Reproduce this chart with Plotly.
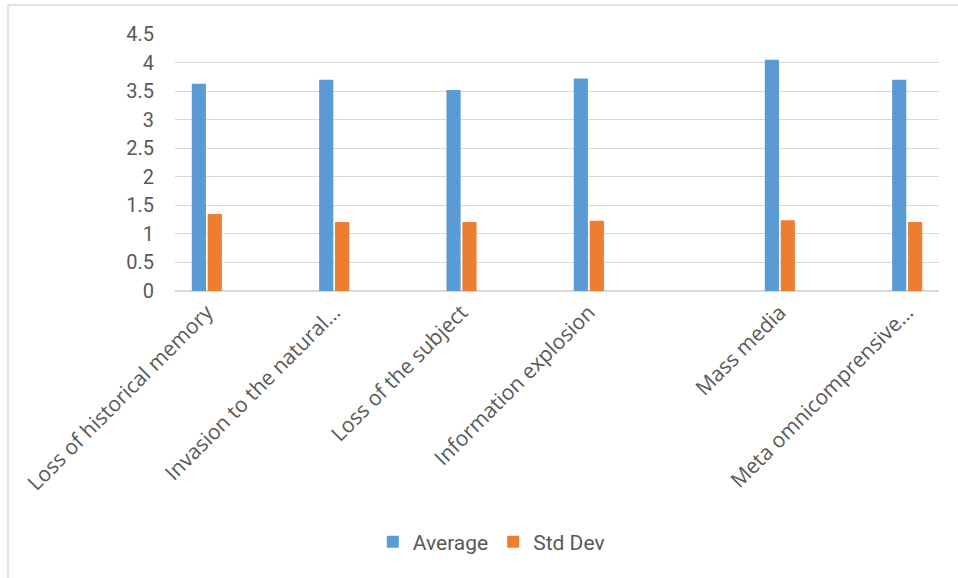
import plotly.graph_objects as go

# Category slots (the source sheet has blank rows between some categories)
categories = [
    "Loss of historical memory", " ", "Invasion to the natural…", "  ",
    "Loss of the subject", "   ", "Information explosion", "    ", "     ",
    "Mass media", "      ", "Meta omnicomprensive…",
]
average = [3.63, None, 3.70, None, 3.52, None, 3.72, None, None, 4.05, None, 3.70]
std_dev = [1.35, None, 1.21, None, 1.21, None, 1.23, None, None, 1.24, None, 1.21]
y_ticks = [0, 0.5, 1, 1.5, 2, 2.5, 3, 3.5, 4, 4.5]

FONT = "Roboto"
XFONT = "Open Sans"
TXT = "#595959"
GRID = "#d9d9d9"

fig = go.Figure()
fig.add_trace(go.Bar(name="Average", x=categories, y=average,
                     marker=dict(color="#5B9BD5", line=dict(width=0))))
fig.add_trace(go.Bar(name="Std Dev", x=categories, y=std_dev,
                     marker=dict(color="#ED7D31", line=dict(width=0))))

fig.update_layout(
    width=958, height=578,
    margin=dict(l=175, r=19, t=34, b=287),
    paper_bgcolor="white", plot_bgcolor="white",
    barmode="group", bargap=0.5, bargroupgap=0.11,
    font=dict(family=FONT, size=20, color=TXT),
    showlegend=True,
    legend=dict(orientation="h", x=0.414, xanchor="center", y=-0.977, yanchor="middle",
                font=dict(family=FONT, size=21, color=TXT), itemwidth=30,
                traceorder="normal"),
    xaxis=dict(type="category", categoryorder="array", categoryarray=categories,
               tickangle=-45, showgrid=False, showline=False, ticks="",
               tickfont=dict(family=XFONT, size=21, color=TXT),
               ticklabelstandoff=4, fixedrange=True),
    yaxis=dict(range=[0, 4.5], tickvals=y_ticks, ticktext=[f"{v:g}" for v in y_ticks],
               showgrid=True, gridcolor=GRID, gridwidth=1.3,
               zeroline=True, zerolinecolor=GRID, zerolinewidth=2,
               showline=False, ticks="", ticklabelstandoff=20,
               tickfont=dict(family=FONT, size=20, color=TXT), fixedrange=True),
    shapes=[dict(type="rect", xref="paper", yref="paper",
                 x0=-0.2186, x1=1.2, y0=-1.3, y1=1.1128,
                 line=dict(color=GRID, width=1.5), fillcolor="rgba(0,0,0,0)",
                 layer="below")],
)

fig.write_html("out.html", config={"displayModeBar": False})
